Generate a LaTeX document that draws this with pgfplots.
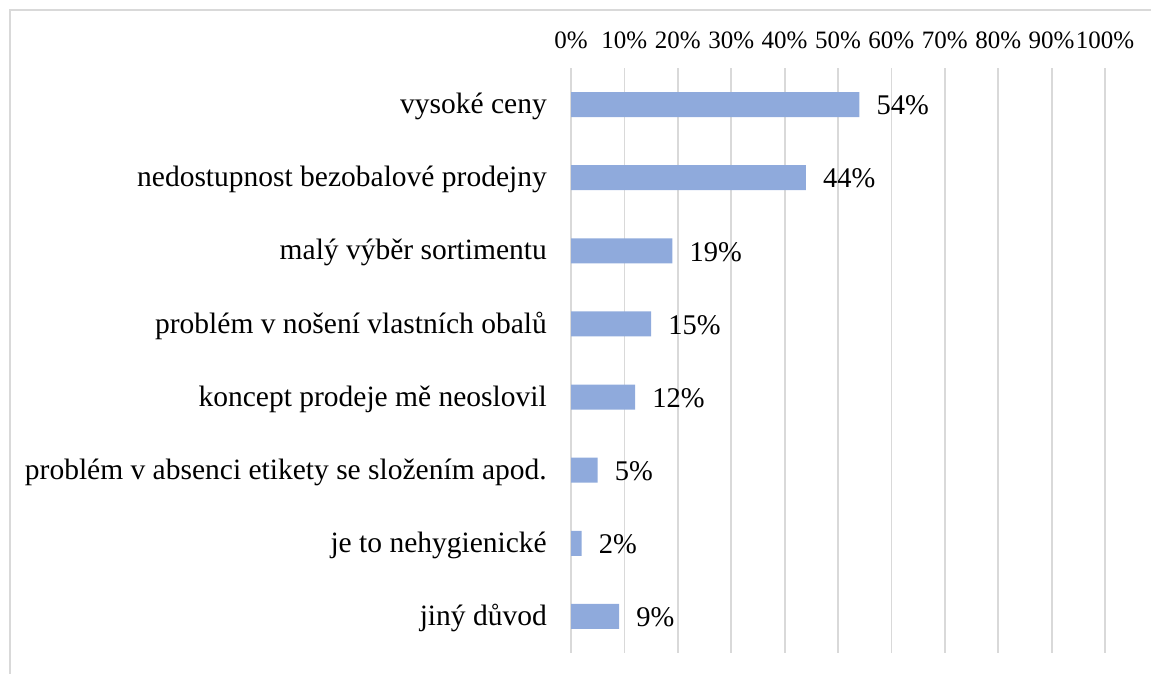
\documentclass[border=0pt]{standalone}
\usepackage{fontspec}
\setmainfont{Liberation Serif}
\usepackage{pgfplots}
\pgfplotsset{compat=1.18}
\definecolor{barblue}{RGB}{143,170,220}
\definecolor{gridgray}{RGB}{217,217,217}
\begin{document}
\begin{tikzpicture}[x=1pt,y=1pt]
\path[use as bounding box] (0,0) rectangle (1151,674);
\draw[gridgray, line width=2pt] (9.5,-5) -- (9.5,663.5) -- (1160,663.5);
\begin{axis}[
 at={(571pt,21pt)}, anchor=south west,
 scale only axis, width=534pt, height=585pt,
 xmin=0, xmax=100, ymin=-0.5, ymax=7.5, y dir=reverse,
 xbar, bar width=25pt,
 axis line style={draw=none},
 major tick length=0pt,
 xtick={0,10,...,100},
 xticklabel={\pgfmathprintnumber{\tick}\%},
 xticklabel pos=right,
 xticklabel style={anchor=south, inner sep=0pt, yshift=19pt, font=\fontsize{25}{25}\selectfont},
 ytick={0,...,7},
 yticklabels={vysoké ceny, nedostupnost bezobalové prodejny, malý výběr sortimentu, problém v nošení vlastních obalů, koncept prodeje mě neoslovil, problém v absenci etikety se složením apod., je to nehygienické, jiný důvod},
 yticklabel style={anchor=east, inner sep=0pt, xshift=-24pt, yshift=-2pt, font=\fontsize{29.5}{30}\selectfont},
 xmajorgrids, grid style={gridgray, line width=1.8pt},
 /pgf/number format/assume math mode=true,
 point meta=x,
 nodes near coords={\pgfmathprintnumber{\pgfplotspointmeta}\%},
 nodes near coords style={anchor=west, inner sep=0pt, xshift=17pt, yshift=-1pt, font=\fontsize{28.5}{28.5}\selectfont},
 clip=false,
]
\addplot[fill=barblue, draw=none] coordinates {(54,0) (44,1) (19,2) (15,3) (12,4) (5,5) (2,6) (9,7)};
\end{axis}
\end{tikzpicture}
\end{document}
